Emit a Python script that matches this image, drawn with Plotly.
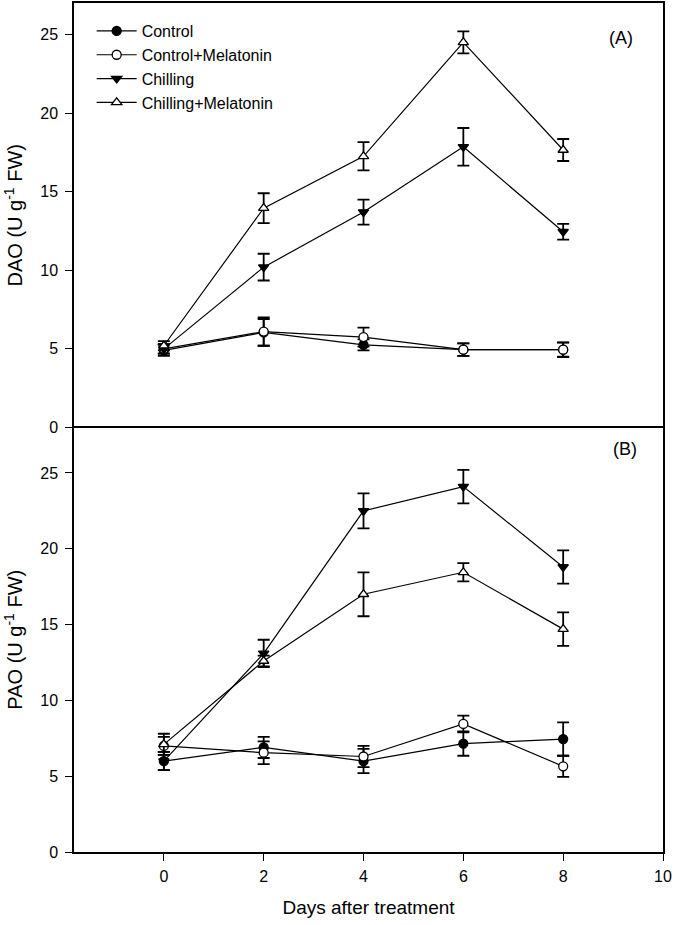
import plotly.graph_objects as go
from plotly.subplots import make_subplots

days = [0, 2, 4, 6, 8]
series_names = ["Control", "Control+Melatonin", "Chilling", "Chilling+Melatonin"]

# (A) DAO, U g-1 FW
dao_control = [4.9, 6.05, 5.25, 4.95, 4.95]
dao_control_err = [0.35, 0.85, 0.35, 0.4, 0.45]
dao_control_mel = [5.0, 6.1, 5.75, 4.95, 4.95]
dao_control_mel_err = [0.3, 0.9, 0.6, 0.4, 0.47]
dao_chilling = [5.0, 10.2, 13.7, 17.85, 12.45]
dao_chilling_err = [0.3, 0.85, 0.8, 1.2, 0.5]
dao_chilling_mel = [5.2, 13.95, 17.25, 24.5, 17.65]
dao_chilling_mel_err = [0.3, 0.95, 0.9, 0.7, 0.7]

# (B) PAO, U g-1 FW
pao_control = [6.0, 6.9, 6.0, 7.15, 7.45]
pao_control_err = [0.6, 0.7, 0.8, 0.8, 1.1]
pao_control_mel = [7.0, 6.55, 6.3, 8.45, 5.65]
pao_control_mel_err = [0.6, 0.75, 0.7, 0.55, 0.7]
pao_chilling = [6.0, 13.1, 22.5, 24.1, 18.8]
pao_chilling_err = [0.6, 0.9, 1.15, 1.1, 1.1]
pao_chilling_mel = [7.1, 12.6, 17.0, 18.45, 14.7]
pao_chilling_mel_err = [0.7, 0.35, 1.45, 0.6, 1.1]

styles = {
    "Control": dict(symbol="circle", color="black"),
    "Control+Melatonin": dict(symbol="circle", color="white"),
    "Chilling": dict(symbol="triangle-down", color="black"),
    "Chilling+Melatonin": dict(symbol="triangle-up", color="white"),
}

panels = [
    (1, [dao_control, dao_control_mel, dao_chilling, dao_chilling_mel],
     [dao_control_err, dao_control_mel_err, dao_chilling_err, dao_chilling_mel_err]),
    (2, [pao_control, pao_control_mel, pao_chilling, pao_chilling_mel],
     [pao_control_err, pao_control_mel_err, pao_chilling_err, pao_chilling_mel_err]),
]

fig = make_subplots(rows=2, cols=1, shared_xaxes=True, vertical_spacing=0)

for row, values, errors in panels:
    for name, y, err in zip(series_names, values, errors):
        st = styles[name]
        fig.add_trace(
            go.Scatter(
                x=days,
                y=y,
                name=name,
                mode="lines+markers",
                showlegend=(row == 1),
                line=dict(color="black", width=1.2),
                marker=dict(symbol=st["symbol"], size=9, color=st["color"],
                            line=dict(color="black", width=1.3)),
                error_y=dict(type="data", array=err, color="black",
                             thickness=1.8, width=6),
            ),
            row=row, col=1,
        )

font = "Liberation Sans, Arial, sans-serif"
axis_common = dict(showline=True, linecolor="black", linewidth=1.5,
                   showgrid=False, zeroline=False, ticks="outside", ticklen=7,
                   tickwidth=1.3, tickcolor="black",
                   tickfont=dict(family=font, size=16, color="black"))

fig.update_xaxes(range=[-1.8, 10], tickvals=[0, 2, 4, 6, 8, 10], **axis_common)
# top border of panel A
fig.update_xaxes(ticks="", showticklabels=False, side="top", mirror=False, row=1, col=1)
fig.update_xaxes(mirror=True, ticklabelstandoff=2,
                 title=dict(text="Days after treatment", standoff=17,
                            font=dict(family=font, size=19, color="black")),
                 row=2, col=1)

fig.update_yaxes(mirror=True, ticklabelstandoff=4, **axis_common)
fig.update_yaxes(range=[0, 27], tickvals=[0, 5, 10, 15, 20, 25],
                 title=dict(text="DAO (U g<sup>-1</sup> FW)", standoff=12,
                            font=dict(family=font, size=20, color="black")),
                 row=1, col=1)
fig.update_yaxes(range=[0, 28], tickvals=[0, 5, 10, 15, 20, 25],
                 title=dict(text="PAO (U g<sup>-1</sup> FW)", standoff=12,
                            font=dict(family=font, size=20, color="black")),
                 row=2, col=1)

fig.add_annotation(text="(A)", x=10 - 0.85, y=24.75, xref="x", yref="y",
                   showarrow=False, font=dict(family=font, size=18, color="black"))
fig.add_annotation(text="(B)", x=10 - 0.77, y=26.6, xref="x2", yref="y2",
                   showarrow=False, font=dict(family=font, size=18, color="black"))

fig.update_layout(
    width=675,
    height=925,
    margin=dict(l=74, r=12, t=3, b=73),
    plot_bgcolor="white",
    paper_bgcolor="white",
    font=dict(family=font, color="black"),
    legend=dict(x=0.03, y=0.987, xanchor="left", yanchor="top",
                bgcolor="rgba(0,0,0,0)", font=dict(family=font, size=16),
                tracegroupgap=0, itemwidth=40),
)

# page body margin would shift the figure by 8 px
fig.write_html("out.html", config={"displayModeBar": False},
               post_script="document.body.style.margin='0px';")
